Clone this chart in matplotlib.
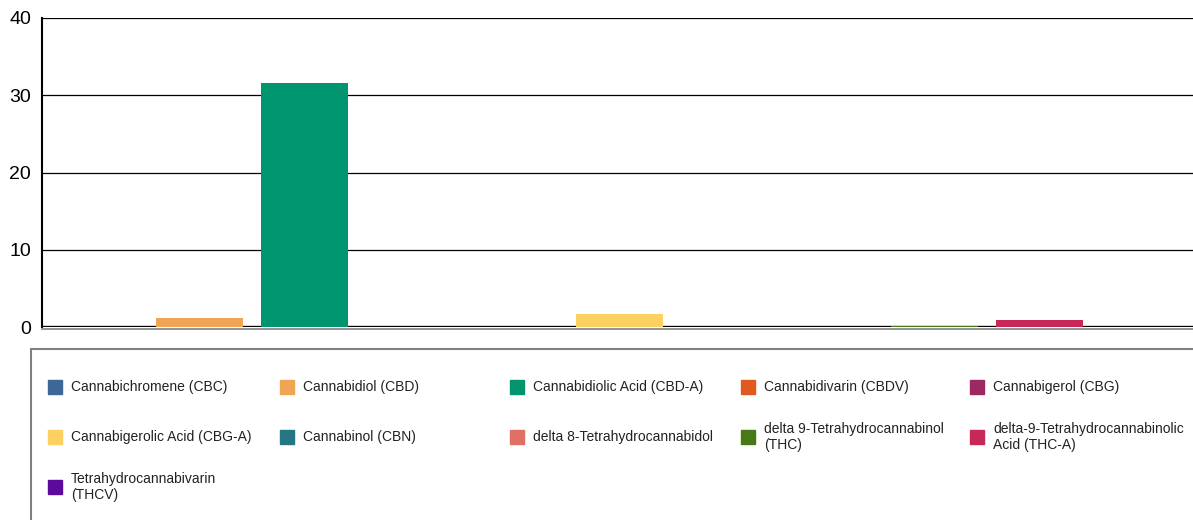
import matplotlib.pyplot as plt
from matplotlib.patches import Rectangle

plt.rcParams['font.family'] = ['Liberation Sans', 'DejaVu Sans']

# cannabinoid names (legend text) and values
labels = [
    'Cannabichromene (CBC)',
    'Cannabidiol (CBD)',
    'Cannabidiolic Acid (CBD-A)',
    'Cannabidivarin (CBDV)',
    'Cannabigerol (CBG)',
    'Cannabigerolic Acid (CBG-A)',
    'Cannabinol (CBN)',
    'delta 8-Tetrahydrocannabidol',
    'delta 9-Tetrahydrocannabinol\n(THC)',
    'delta-9-Tetrahydrocannabinolic\nAcid (THC-A)',
    'Tetrahydrocannabivarin\n(THCV)',
]
values = [0, 1.2, 31.6, 0, 0, 1.7, 0, 0, 0.15, 0.9, 0]
colors = ['#3d6699', '#f0a555', '#00956f', '#e05a20', '#9c2a62',
          '#fdd062', '#267585', '#e07065', '#477a17', '#c82858', '#5b0a9c']
yticks = [0, 10, 20, 30, 40]

W, H = 1193, 520
fig = plt.figure(figsize=(W / 100, H / 100), dpi=100)
ax = fig.add_axes([42 / W, (H - 327) / H, 1155 / W, 309 / H])

x = list(range(len(values)))
ax.bar(x, values, width=0.82, color=colors, zorder=5)
ax.set_xlim(-0.5, len(values) - 0.5)
ax.set_ylim(0, 40)
ax.set_yticks(yticks)
ax.set_xticks([])
ax.tick_params(axis='y', length=0, pad=8, labelsize=14)
for t in yticks[1:]:
    ax.axhline(t, color='black', lw=0.9, zorder=1)
ax.axhline(0, color='black', lw=2.4, zorder=4)

for s in ['top', 'right']:
    ax.spines[s].set_visible(False)
ax.spines['left'].set_color('black')
ax.spines['left'].set_linewidth(1.5)
ax.spines['bottom'].set_color('#808080')
ax.spines['bottom'].set_linewidth(1.2)
ax.spines['bottom'].set_position(('outward', 1.5))

# legend box drawn by hand
fig.patches.append(Rectangle((31 / W, -0.1), 1.2, (H - 349) / H + 0.1,
                             transform=fig.transFigure, fill=False,
                             edgecolor='#808080', lw=1.5))
col_x = [48, 280, 510, 741, 970]
row_y = [387, 437, 487]
for i, (lab, c) in enumerate(zip(labels, colors)):
    cx = col_x[i % 5]
    cy = row_y[i // 5]
    fig.patches.append(Rectangle((cx / W, (H - cy - 7) / H), 14 / W, 14 / H,
                                 transform=fig.transFigure, color=c))
    fig.text((cx + 23) / W, (H - cy) / H, lab, fontsize=10, va='center',
             ha='left', linespacing=1.2, color='#222222')

fig.savefig('out.png', dpi=100)
